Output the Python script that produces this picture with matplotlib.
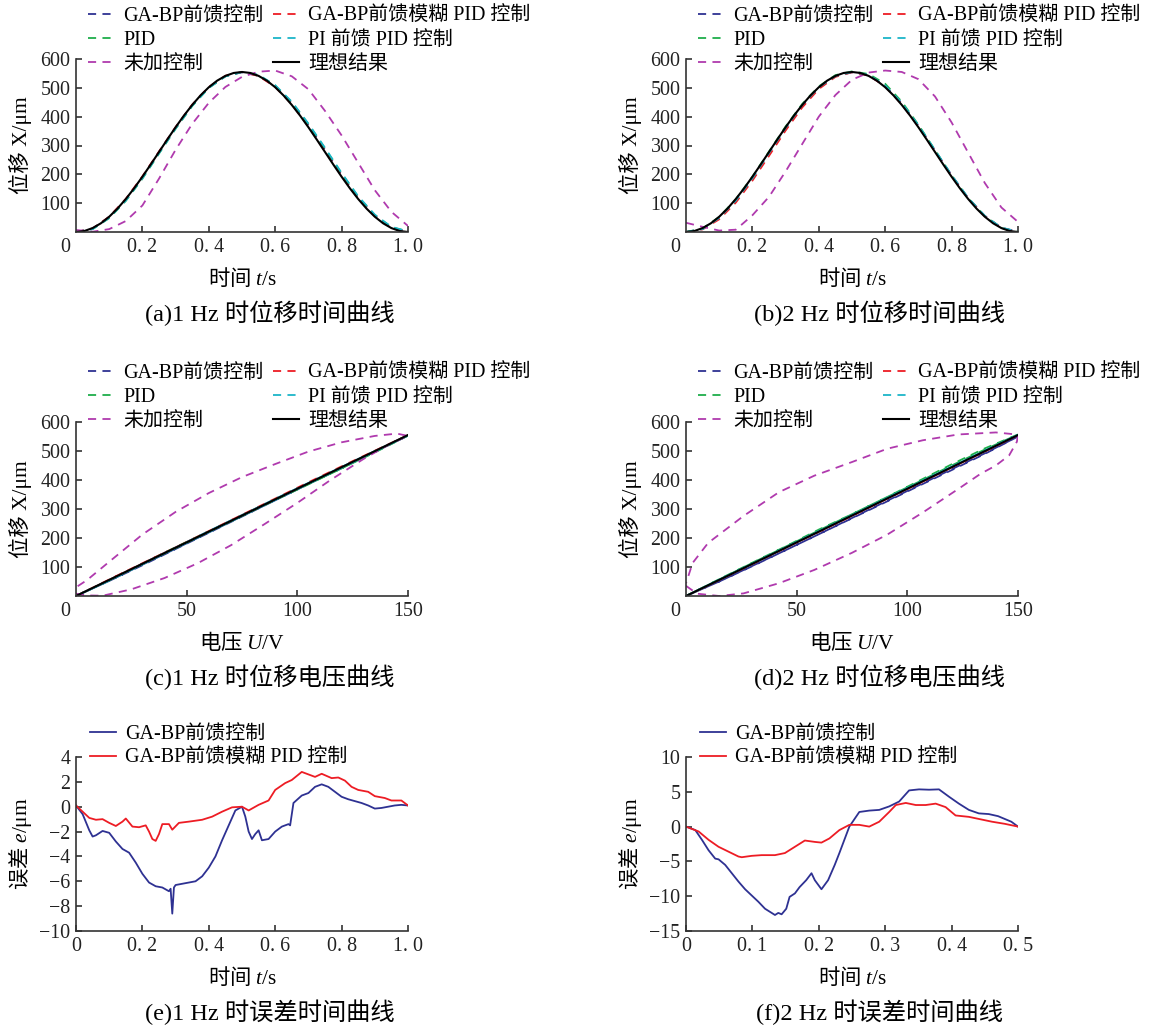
import matplotlib
matplotlib.use("Agg")
import matplotlib.pyplot as plt

plt.rcParams['font.family'] = ['Liberation Serif', 'Noto Sans CJK SC']
plt.rcParams['mathtext.fontset'] = 'custom'
plt.rcParams['mathtext.rm'] = 'Liberation Serif'
plt.rcParams['mathtext.it'] = 'Liberation Serif:italic'

# ---- data: displacement vs time (a, b) ----
t_fine = [0, 0.025, 0.05, 0.075, 0.1, 0.125, 0.15, 0.175, 0.2, 0.225, 0.25, 0.275, 0.3, 0.325,
          0.35, 0.375, 0.4, 0.425, 0.45, 0.475, 0.5, 0.525, 0.55, 0.575, 0.6, 0.625, 0.65, 0.675,
          0.7, 0.725, 0.75, 0.775, 0.8, 0.825, 0.85, 0.875, 0.9, 0.925, 0.95, 0.975, 1.0]
ideal_pos = [0, 3.4, 13.6, 30.2, 53.0, 81.3, 114.4, 151.5, 191.7, 234.1, 277.5, 320.9, 363.3,
             403.5, 440.6, 473.7, 502.0, 524.8, 541.4, 551.6, 555.0, 551.6, 541.4, 524.8, 502.0,
             473.7, 440.6, 403.5, 363.3, 320.9, 277.5, 234.1, 191.7, 151.5, 114.4, 81.3, 53.0,
             30.2, 13.6, 3.4, 0]

t_coarse = [0, 0.05, 0.1, 0.15, 0.2, 0.25, 0.3, 0.35, 0.4, 0.45, 0.5, 0.55, 0.6, 0.65, 0.7,
            0.75, 0.8, 0.85, 0.9, 0.95, 1.0]

a_gabp = [0, 12, 52, 112, 190, 278, 362, 440, 501, 540, 554, 542, 505, 446, 370, 285, 198, 118, 56, 15, 1]
a_fuzzy = [0, 12, 53, 115, 193, 279, 364, 442, 503, 542, 555, 541, 503, 443, 366, 280, 194, 116, 55, 14, 0]
a_pid = [0, 10, 48, 108, 185, 272, 358, 437, 500, 540, 555, 544, 508, 450, 374, 290, 203, 122, 59, 17, 2]
a_pi = [0, 10, 49, 109, 186, 273, 359, 438, 500, 540, 555, 545, 509, 452, 376, 292, 205, 124, 60, 18, 2]
a_none = [7, 1, 10, 38, 92, 185, 285, 375, 448, 503, 538, 556, 560, 540, 495, 420, 335, 240, 145, 70, 21]

b_gabp = [0, 11, 50, 110, 187, 274, 360, 438, 500, 540, 554, 543, 506, 446, 369, 283, 197, 118, 56, 15, 1]
b_fuzzy = [0, 9, 44, 102, 178, 264, 352, 432, 496, 538, 554, 543, 505, 443, 366, 280, 194, 116, 55, 14, 0]
b_pid = [0, 12, 52, 114, 192, 279, 366, 444, 505, 544, 557, 548, 514, 452, 372, 284, 196, 117, 55, 14, 0]
b_pi = [0, 10, 49, 109, 186, 274, 361, 440, 502, 541, 555, 545, 508, 448, 370, 284, 197, 118, 56, 15, 1]
b_none = [32, 18, 5, 8, 58, 122, 210, 305, 400, 475, 528, 553, 560, 555, 530, 470, 380, 275, 170, 85, 35]

# ---- data: displacement vs voltage (c, d) ----
u_ideal = [0, 150]
x_ideal = [0, 555]
u_loop = [0, 15, 30, 45, 60, 75, 90, 105, 120, 135, 150, 135, 120, 105, 90, 75, 60, 45, 30, 15, 0]

c_gabp = [0, 52, 108, 163, 219, 275, 330, 386, 441, 497, 553, 497, 441, 386, 330, 274, 218, 162, 106, 52, 0]
c_fuzzy = [0, 57, 113, 168, 224, 280, 336, 392, 447, 501, 555, 499, 444, 389, 334, 279, 223, 168, 112, 56, 0]
c_pid = [0, 54, 110, 168, 222, 276, 333, 386, 440, 495, 553, 498, 440, 385, 331, 276, 221, 165, 110, 54, 0]
c_pi = [0, 53, 109, 165, 220, 276, 331, 387, 442, 498, 554, 500, 445, 390, 335, 279, 224, 167, 111, 55, 0]
c_none_u = [0, 5, 12, 25, 40, 55, 70, 85, 100, 115, 130, 142, 150, 145, 135, 120, 105, 90, 75, 60, 45, 30, 15, 5, 0]
c_none_x = [8, 2, 1, 23, 62, 113, 175, 247, 321, 400, 473, 525, 552, 560, 552, 530, 498, 455, 410, 355, 290, 212, 118, 55, 30]

d_gabp = [0, 50, 104, 158, 213, 268, 323, 379, 434, 490, 550, 492, 437, 381, 325, 269, 213, 158, 103, 50, 0]
d_fuzzy = [0, 55, 110, 166, 221, 276, 332, 387, 443, 498, 555, 499, 444, 388, 333, 277, 222, 166, 111, 55, 0]
d_pid = [0, 58, 115, 171, 229, 282, 338, 396, 454, 509, 557, 505, 450, 393, 338, 282, 226, 170, 114, 57, 0]
d_pi = [0, 56, 112, 168, 224, 279, 335, 391, 446, 502, 556, 500, 446, 390, 335, 279, 223, 167, 111, 56, 0]
d_none_u = [0, 5, 15, 26, 42, 58, 75, 91, 107, 123, 133, 140, 146, 149.5, 150, 148, 140, 123, 107, 91, 75, 58, 42, 26, 10, 3, 0]
d_none_x = [35, 8, 0, 9, 44, 90, 149, 212, 288, 369, 421, 450, 485, 532, 555, 558, 564, 557, 537, 508, 462, 415, 358, 276, 183, 114, 44]

# ---- data: error vs time (e, f) ----
e_t_blue = [0, 0.02, 0.04, 0.05, 0.06, 0.08, 0.10, 0.12, 0.14, 0.16, 0.18, 0.20, 0.22, 0.24, 0.26,
            0.28, 0.285, 0.29, 0.295, 0.30, 0.32, 0.34, 0.36, 0.38, 0.40, 0.42, 0.44, 0.46, 0.48,
            0.50, 0.51, 0.52, 0.53, 0.54, 0.55, 0.56, 0.58, 0.60, 0.62, 0.64, 0.645, 0.655, 0.68,
            0.70, 0.72, 0.74, 0.76, 0.78, 0.80, 0.82, 0.84, 0.86, 0.88, 0.90, 0.92, 0.94, 0.96,
            0.98, 1.0]
e_blue = [0.1, -0.6, -1.9, -2.4, -2.3, -1.95, -2.1, -2.8, -3.4, -3.7, -4.5, -5.4, -6.1, -6.4, -6.5,
          -6.8, -6.6, -8.6, -6.5, -6.3, -6.2, -6.1, -6.0, -5.6, -4.9, -4.0, -2.7, -1.5, -0.3,
          0.0, -0.8, -2.0, -2.6, -2.2, -1.9, -2.7, -2.6, -2.0, -1.6, -1.4, -1.5, 0.3, 0.9,
          1.1, 1.6, 1.8, 1.6, 1.2, 0.8, 0.6, 0.45, 0.3, 0.1, -0.15, -0.1, 0.0, 0.1,
          0.15, 0.1]
e_t_red = [0, 0.02, 0.04, 0.06, 0.08, 0.10, 0.12, 0.14, 0.15, 0.17, 0.19, 0.21, 0.22, 0.23, 0.24,
           0.25, 0.26, 0.28, 0.29, 0.31, 0.34, 0.38, 0.41, 0.44, 0.47, 0.50, 0.52, 0.55, 0.58,
           0.60, 0.63, 0.65, 0.68, 0.70, 0.72, 0.74, 0.77, 0.79, 0.81, 0.83, 0.85, 0.88, 0.90,
           0.93, 0.95, 0.98, 1.0]
e_red = [0.1, -0.4, -0.9, -1.05, -1.0, -1.3, -1.55, -1.2, -0.95, -1.6, -1.65, -1.5, -2.0, -2.6, -2.75,
         -2.2, -1.4, -1.4, -1.85, -1.3, -1.2, -1.05, -0.8, -0.4, -0.05, 0.0, -0.3, 0.15, 0.5,
         1.35, 1.9, 2.15, 2.8, 2.6, 2.4, 2.65, 2.3, 2.35, 2.1, 1.6, 1.35, 1.2, 0.85,
         0.7, 0.5, 0.5, 0.1]

f_t_blue = [0, 0.014, 0.024, 0.034, 0.044, 0.049, 0.059, 0.069, 0.079, 0.089, 0.099, 0.109, 0.119,
            0.129, 0.134, 0.139, 0.144, 0.151, 0.156, 0.164, 0.171, 0.181, 0.189, 0.194, 0.204,
            0.214, 0.224, 0.231, 0.246, 0.261, 0.276, 0.291, 0.306, 0.321, 0.336, 0.351, 0.366,
            0.381, 0.396, 0.411, 0.426, 0.441, 0.456, 0.47, 0.49, 0.5]
f_blue = [0.0, -0.5, -1.9, -3.4, -4.6, -4.7, -5.5, -6.7, -7.9, -9.0, -9.9, -10.8, -11.8,
          -12.4, -12.7, -12.4, -12.6, -11.8, -10.1, -9.6, -8.7, -7.7, -6.7, -7.7, -9.0,
          -7.7, -5.5, -3.8, 0.0, 2.1, 2.3, 2.4, 2.9, 3.6, 5.2, 5.35, 5.3,
          5.35, 4.3, 3.3, 2.4, 1.9, 1.8, 1.5, 0.7, 0.0]
f_t_red = [0, 0.019, 0.034, 0.049, 0.064, 0.079, 0.084, 0.099, 0.114, 0.134, 0.149, 0.164, 0.179,
           0.194, 0.204, 0.216, 0.231, 0.246, 0.261, 0.276, 0.291, 0.306, 0.316, 0.331, 0.346,
           0.361, 0.376, 0.391, 0.406, 0.426, 0.446, 0.461, 0.48, 0.5]
f_red = [0.0, -0.7, -1.9, -2.9, -3.6, -4.3, -4.4, -4.2, -4.1, -4.1, -3.8, -2.9, -2.0,
         -2.2, -2.3, -1.7, -0.5, 0.25, 0.25, 0.0, 0.7, 2.1, 3.1, 3.4, 3.1,
         3.1, 3.3, 2.8, 1.6, 1.4, 1.0, 0.7, 0.4, 0.0]

labels6 = ["GA-BP前馈控制", "GA-BP前馈模糊 PID 控制", "PID", "PI 前馈 PID 控制", "未加控制", "理想结果"]
labels2 = ["GA-BP前馈控制", "GA-BP前馈模糊 PID 控制"]
captions = ["(a)1 Hz 时位移时间曲线", "(b)2 Hz 时位移时间曲线", "(c)1 Hz 时位移电压曲线",
            "(d)2 Hz 时位移电压曲线", "(e)1 Hz 时误差时间曲线", "(f)2 Hz 时误差时间曲线"]

C_BLUE, C_RED, C_GREEN = "#2e3192", "#ed1c24", "#1fae4b"
C_CYAN, C_MAG = "#1cb5c8", "#b03aae"
FS = 14.4
CAP_FS = 17.5
W, H = 1163, 1029


def box(l, t, r, b):
    return [l / W, 1 - b / H, (r - l) / W, (b - t) / H]


def style(ax, xlim, ylim, xticks, xlabels, yticks, corner_zero):
    for s in ("top", "right"):
        ax.spines[s].set_visible(False)
    for s in ("left", "bottom"):
        ax.spines[s].set_linewidth(1.2)
        ax.spines[s].set_color("#333333")
    ax.tick_params(direction="in", length=4, width=1.1, labelsize=FS, colors="#222222", pad=4)
    ax.set_xlim(*xlim)
    ax.set_ylim(*ylim)
    ax.set_xticks(xticks, xlabels)
    ax.set_yticks(yticks)
    if corner_zero:
        ax.annotate("0", xy=(0, 0), xycoords="axes fraction", xytext=(-8, -4),
                    textcoords="offset points", ha="center", va="top", fontsize=FS, color="#222222")


def labels(ax, xl, yl, y_math=False):
    ax.set_xlabel(xl, fontsize=FS + 1, family="Noto Sans CJK SC")
    ax.set_ylabel(yl, fontsize=FS + 1, family="Noto Sans CJK SC" if y_math else None)
    ax.xaxis.set_label_coords(0.5, -46 / 174)
    ax.xaxis.label.set_va("center")
    ax.yaxis.set_label_coords(-56 / 332, 0.5)
    ax.yaxis.label.set_va("center")


def legend(ax, handles, names, x, top, ncol):
    ax.legend(handles, names, loc="upper left", bbox_to_anchor=(x / W, 1 - top / H),
              bbox_transform=fig.transFigure, ncol=ncol, frameon=False, fontsize=FS,
              borderpad=0, borderaxespad=0, handlelength=1.3, handletextpad=0.45,
              columnspacing=0.5, labelspacing=0.25)


fig = plt.figure(figsize=(W / 100, H / 100), dpi=100)

dash = dict(ls="--", dashes=(4.5, 3.5), lw=1.3)
t_ticks = [0.2, 0.4, 0.6, 0.8, 1.0]
t_labels = ["0. 2", "0. 4", "0. 6", "0. 8", "1. 0"]
pos_yticks = [100, 200, 300, 400, 500, 600]

# (a) and (b)
for i, (lft, data) in enumerate([(76, (a_gabp, a_fuzzy, a_pid, a_pi, a_none)),
                                 (686, (b_gabp, b_fuzzy, b_pid, b_pi, b_none))]):
    ax = fig.add_axes(box(lft, 59, lft + 332, 232))
    gabp, fuzzy, pid, pi, none = data
    h1, = ax.plot(t_coarse, gabp, color=C_BLUE, **dash)
    h2, = ax.plot(t_coarse, fuzzy, color=C_RED, **dash)
    h3, = ax.plot(t_coarse, pid, color=C_GREEN, **dash)
    h4, = ax.plot(t_coarse, pi, color=C_CYAN, **dash)
    h5, = ax.plot(t_coarse, none, color=C_MAG, **dash)
    h6, = ax.plot(t_fine, ideal_pos, color="black", lw=1.5)
    style(ax, (0, 1.0), (0, 600), t_ticks, t_labels, pos_yticks, True)
    labels(ax, "时间 $t/\\mathrm{s}$", "位移 X/μm")
    legend(ax, [h1, h3, h5, h2, h4, h6],
           [labels6[0], labels6[2], labels6[4], labels6[1], labels6[3], labels6[5]], lft + 12, 7, 2)
    fig.text((lft + 194) / W, 1 - 313 / H, captions[i], ha="center", va="center", fontsize=CAP_FS)

# (c) and (d)
for i, (lft, data) in enumerate([(76, (c_gabp, c_fuzzy, c_pid, c_pi, c_none_u, c_none_x)),
                                 (686, (d_gabp, d_fuzzy, d_pid, d_pi, d_none_u, d_none_x))]):
    ax = fig.add_axes(box(lft, 422, lft + 332, 596))
    gabp, fuzzy, pid, pi, nu, nx = data
    h1, = ax.plot(u_loop, gabp, color=C_BLUE, **dash)
    h2, = ax.plot(u_loop, fuzzy, color=C_RED, **dash)
    h3, = ax.plot(u_loop, pid, color=C_GREEN, **dash)
    h4, = ax.plot(u_loop, pi, color=C_CYAN, **dash)
    h5, = ax.plot(nu, nx, color=C_MAG, **dash)
    h6, = ax.plot(u_ideal, x_ideal, color="black", lw=1.5)
    style(ax, (0, 150), (0, 600), [50, 100, 150], ["50", "100", "150"], pos_yticks, True)
    labels(ax, "电压 $U/\\mathrm{V}$", "位移 X/μm")
    legend(ax, [h1, h3, h5, h2, h4, h6],
           [labels6[0], labels6[2], labels6[4], labels6[1], labels6[3], labels6[5]], lft + 12, 364, 2)
    fig.text((lft + 194) / W, 1 - 677 / H, captions[2 + i], ha="center", va="center", fontsize=CAP_FS)

# (e)
ax = fig.add_axes(box(76, 757, 408, 931))
h1, = ax.plot(e_t_blue, e_blue, color=C_BLUE, lw=1.3)
h2, = ax.plot(e_t_red, e_red, color=C_RED, lw=1.3)
style(ax, (0, 1.0), (-10, 4), [0] + t_ticks, ["0"] + t_labels, [-10, -8, -6, -4, -2, 0, 2, 4], False)
labels(ax, "时间 $t/\\mathrm{s}$", "误差 $e/\\mathrm{\\mu m}$", y_math=True)
legend(ax, [h1, h2], labels2, 90, 725, 1)
fig.text(270 / W, 1 - 1012 / H, captions[4], ha="center", va="center", fontsize=CAP_FS)

# (f)
ax = fig.add_axes(box(686, 757, 1018, 931))
h1, = ax.plot(f_t_blue, f_blue, color=C_BLUE, lw=1.3)
h2, = ax.plot(f_t_red, f_red, color=C_RED, lw=1.3)
style(ax, (0, 0.5), (-15, 10), [0, 0.1, 0.2, 0.3, 0.4, 0.5],
      ["0", "0. 1", "0. 2", "0. 3", "0. 4", "0. 5"], [-15, -10, -5, 0, 5, 10], False)
labels(ax, "时间 $t/\\mathrm{s}$", "误差 $e/\\mathrm{\\mu m}$", y_math=True)
legend(ax, [h1, h2], labels2, 700, 725, 1)
fig.text(880 / W, 1 - 1012 / H, captions[5], ha="center", va="center", fontsize=CAP_FS)

fig.savefig("out.png", dpi=100)
